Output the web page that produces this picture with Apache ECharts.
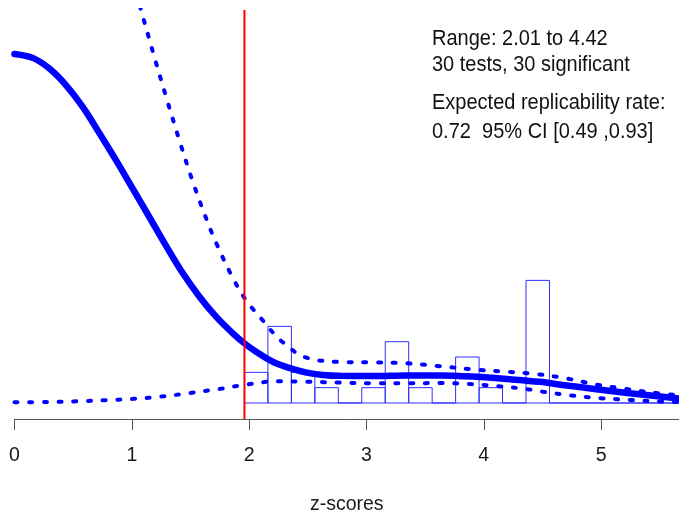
<!DOCTYPE html>
<html><head><meta charset="utf-8">
<script src="https://cdn.jsdelivr.net/npm/echarts@6/dist/echarts.min.js"></script>
<style>html,body{margin:0;padding:0;background:#fff}#c{width:679px;height:520px}</style>
</head><body><div id="c"></div>
<script>
// ---- data ----
const xTicks = [0, 1, 2, 3, 4, 5];
const binLeft = [1.96, 2.16, 2.36, 2.56, 2.76, 2.96, 3.16, 3.36, 3.56, 3.76, 3.96, 4.16, 4.36, 4.56, 4.76, 4.96, 5.16, 5.36, 5.56];
const binCounts = [2, 5, 2, 1, 0, 1, 4, 1, 0, 3, 1, 0, 8, 0, 0, 0, 0, 0, 0];
const binWidth = 0.2;
const criticalZ = 1.96;
const fittedCurve = [[0,22.77],[0.16,22.5],[0.30,21.8],[0.445,20.68],[0.583,19.3],[0.728,17.55],[0.870,15.78],[1.009,13.97],[1.154,12.07],[1.296,10.2],[1.435,8.46],[1.580,6.9],[1.722,5.6],[1.861,4.55],[1.978,3.78],[2.063,3.33],[2.202,2.69],[2.347,2.27],[2.489,1.98],[2.628,1.83],[2.773,1.77],[3.054,1.76],[3.341,1.8],[3.624,1.8],[3.937,1.71],[4.221,1.55],[4.476,1.38],[4.672,1.18],[4.959,0.9],[5.243,0.64],[5.66,0.3]];
const upperCurve = [[1.001,27.77],[1.069,25.9],[1.180,22.9],[1.299,19.8],[1.410,17.02],[1.520,14.43],[1.640,11.91],[1.725,10.34],[1.861,8.16],[1.972,6.72],[2.117,5.38],[2.236,4.32],[2.347,3.6],[2.432,3.12],[2.577,2.8],[2.773,2.68],[3.054,2.65],[3.343,2.59],[3.599,2.42],[3.939,2.17],[4.195,2.04],[4.434,1.9],[4.706,1.6],[4.962,1.2],[5.183,0.95],[5.439,0.68],[5.66,0.5]];
const lowerCurve = [[0,0.05],[0.274,0.06],[0.530,0.11],[0.771,0.18],[1.012,0.27],[1.254,0.42],[1.495,0.65],[1.750,0.92],[1.978,1.2],[2.233,1.42],[2.489,1.39],[2.773,1.33],[3.054,1.29],[3.341,1.29],[3.639,1.3],[3.880,1.24],[4.118,1.1],[4.374,0.9],[4.502,0.74],[4.746,0.49],[4.987,0.32],[5.243,0.2],[5.524,0.09],[5.66,0.06]];
const infoLines = ['Range: 2.01 to 4.42', '30 tests, 30 significant', 'Expected replicability rate:', '0.72  95% CI [0.49 ,0.93]'];

// ---- chart ----
const Y_MIN = -1.044, Y_MAX = 25.64;
const histData = binLeft.map((l, i) => [l, l + binWidth, binCounts[i]]);
const chart = echarts.init(document.getElementById('c'), null, {renderer: 'canvas'});
const dashed = {width: 4, color: '#0000ff', type: [3, 11.7], cap: 'round'};
const infoY = [39, 64.5, 102.5, 132];
const FONT = '"Liberation Sans", Arial, sans-serif';
chart.setOption({
  animation: false,
  backgroundColor: '#ffffff',
  grid: {left: 14.5, top: 10, right: 0, bottom: 101, containLabel: false, outerBoundsMode: 'none'},
  xAxis: {
    type: 'value', min: 0, max: 5.664,
    splitLine: {show: false},
    axisLine: {show: true, onZero: false, lineStyle: {color: '#555', width: 1}},
    axisTick: {show: true, length: 11, lineStyle: {color: '#555'}, customValues: xTicks},
    axisLabel: {fontSize: 19.5, color: '#1a1a1a', margin: 27, fontFamily: FONT, customValues: xTicks},
    name: 'z-scores', nameLocation: 'middle', nameGap: 76,
    nameTextStyle: {fontSize: 19.5, color: '#1a1a1a', fontFamily: FONT}
  },
  yAxis: {type: 'value', min: Y_MIN, max: Y_MAX, show: false, splitLine: {show: false}},
  graphic: infoLines.map((t, i) => ({
    type: 'text', x: 432, y: infoY[i], scaleY: 1.1,
    style: {text: t, x: 0, y: 0, align: 'left', verticalAlign: 'middle', font: '20px ' + FONT, fill: '#111'}
  })),
  series: [
    {
      type: 'custom', z: 1, clip: true,
      data: histData,
      renderItem: function (params, api) {
        const p0 = api.coord([api.value(0), api.value(2)]);
        const p1 = api.coord([api.value(1), 0]);
        return {
          type: 'rect',
          shape: {x: p0[0], y: p0[1], width: p1[0] - p0[0], height: p1[1] - p0[1]},
          style: {fill: null, stroke: '#2f2fff', lineWidth: 1}
        };
      }
    },
    {type: 'line', z: 2, data: lowerCurve, showSymbol: false, smooth: 0.35, lineStyle: dashed},
    {type: 'line', z: 2, data: upperCurve, showSymbol: false, smooth: 0.35, lineStyle: dashed},
    {type: 'line', z: 3, data: fittedCurve, showSymbol: false, smooth: 0.35, lineStyle: {width: 6.5, color: '#0000ff', cap: 'round'}},
    {type: 'line', z: 4, data: [[criticalZ, Y_MIN], [criticalZ, Y_MAX]], showSymbol: false, lineStyle: {width: 2, color: '#ff0000'}}
  ]
});
</script></body></html>
